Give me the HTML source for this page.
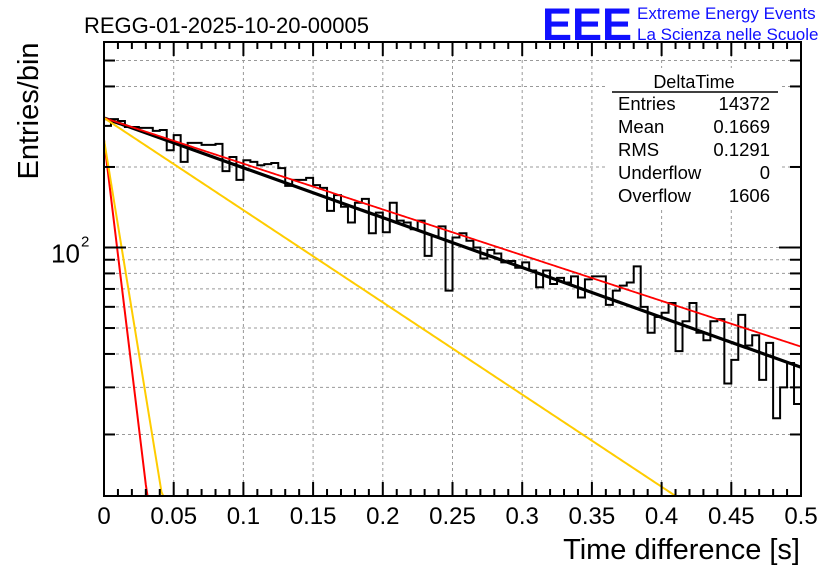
<!DOCTYPE html>
<html><head><meta charset="utf-8"><style>
body{margin:0;background:#fff;}
svg{display:block;font-family:"Liberation Sans",sans-serif;}
</style></head><body>
<svg id="c" width="836" height="572" viewBox="0 0 836 572" xmlns="http://www.w3.org/2000/svg">
<rect width="836" height="572" fill="#fff"/>
<g id="grid"></g>
<g id="stats">
<rect x="608" y="68" width="172" height="140" fill="#fff"/>
<text x="694" y="88" font-size="18" text-anchor="middle">DeltaTime</text>
<line x1="612" y1="92" x2="778" y2="92" stroke="#000" stroke-width="1.5"/>
<text x="618" y="110" font-size="18.5">Entries</text><text x="770" y="110" font-size="18.5" text-anchor="end">14372</text>
<text x="618" y="133" font-size="18.5">Mean</text><text x="770" y="133" font-size="18.5" text-anchor="end">0.1669</text>
<text x="618" y="156" font-size="18.5">RMS</text><text x="770" y="156" font-size="18.5" text-anchor="end">0.1291</text>
<text x="618" y="179" font-size="18.5">Underflow</text><text x="770" y="179" font-size="18.5" text-anchor="end">0</text>
<text x="618" y="202" font-size="18.5">Overflow</text><text x="770" y="202" font-size="18.5" text-anchor="end">1606</text>
</g>
<g id="marks"></g>
<g id="axes"></g>
<text x="84" y="33" font-size="22">REGG-01-2025-10-20-00005</text>
<text x="542" y="40" font-size="45" font-weight="bold" fill="#1010ff">EEE</text>
<text x="637" y="19" font-size="17" fill="#1010ff">Extreme Energy Events</text>
<text x="637" y="40" font-size="17" fill="#1010ff">La Scienza nelle Scuole</text>
<text transform="translate(38,111) rotate(-90)" font-size="29" text-anchor="middle">Entries/bin</text>
<text x="800" y="559" font-size="29" text-anchor="end">Time difference [s]</text>
</svg>
<script>
const counts=[285,302,297,282,282,280,280,273,275,231,263,209,246,246,242,242,244,193,218,179,212,209,203,205,207,198,170,179,179,182,171,167,137,157,142,124,147,152,113,135,114,147,126,124,117,126,93,110,120,69,109,113,106,100,91,98,95,88,89,84,88,82,71,82,73,77,74,78,65,76,78,78,61,69,72,74,85,60,48,55,57,62,41,53,62,48,45,53,54,31,38,56,43,47,32,44,23,30,37,26];
const fitAmps=[305,305,305,253,253];
const fitTaus=[0.233,0.254,0.126,0.0101,0.0136];
const fitColors=["#000","#ff0000","#ffcc00","#ff0000","#ffcc00"];
const fitWidths=[3.2,1.8,2,2,2];
const xTicks=[0,0.05,0.1,0.15,0.2,0.25,0.3,0.35,0.4,0.45,0.5];
const xTickLabels=["0","0.05","0.1","0.15","0.2","0.25","0.3","0.35","0.4","0.45","0.5"];
const yMinor=[20,30,40,50,60,70,80,90,200,400,500];
const NS="http://www.w3.org/2000/svg";
const X0=104,X1=801,Y0=42,Y1=496,XMIN=0,XMAX=0.5;
const YREF=247.5,DEC=267.5;
const ymin=Math.pow(10,2-(Y1-YREF)/DEC),ymax=Math.pow(10,2+(YREF-Y0)/DEC);
function sx(v){return X0+(v-XMIN)/(XMAX-XMIN)*(X1-X0);}
function sy(v){return YREF-(Math.log10(v)-2)*DEC;}
function mk(t,a,p){const e=document.createElementNS(NS,t);for(const k in a)e.setAttribute(k,a[k]);p.appendChild(e);return e;}
const grid=document.getElementById('grid'),marks=document.getElementById('marks'),axes=document.getElementById('axes');
xTicks.forEach(v=>{if(v>0&&v<0.5){const l=mk('line',{x1:sx(v),x2:sx(v),y1:Y0,y2:Y1,stroke:'#999','stroke-dasharray':'3,3','stroke-width':1},grid);

}});
yMinor.concat([100]).forEach(v=>{const l=mk('line',{x1:X0,x2:X1,y1:sy(v),y2:sy(v),stroke:'#999','stroke-dasharray':'3,3','stroke-width':1},grid);

});
const bw=(XMAX-XMIN)/counts.length;
let d='';
counts.forEach((c,i)=>{const y=Math.min(Y1,Math.max(Y0,sy(c)));const xa=sx(i*bw),xb=sx((i+1)*bw);d+=(i===0?'M':'L')+xa+','+y+'L'+xb+','+y;});
const h=mk('path',{d:d,fill:'none',stroke:'#000','stroke-width':2},marks);


fitAmps.forEach((A,k)=>{let p='';for(let j=0;j<=400;j++){const t=XMAX*j/400;let v=A*Math.exp(-t/fitTaus[k]);let y=sy(Math.max(v,ymin));p+=(j?'L':'M')+sx(t).toFixed(2)+','+y.toFixed(2);if(v<ymin)break;}
const f=mk('path',{d:p,fill:'none',stroke:fitColors[k],'stroke-width':fitWidths[k]},marks);

});
const fr=mk('rect',{x:X0,y:Y0,width:X1-X0,height:Y1-Y0,fill:'none',stroke:'#000','stroke-width':2},axes);


for(let j=0;j<=50;j++){const v=j*0.01;const L=(j%5===0)?14:7;const x=sx(v);
mk('line',{x1:x,x2:x,y1:Y1,y2:Y1-L,stroke:'#000','stroke-width':2},axes);
mk('line',{x1:x,x2:x,y1:Y0,y2:Y0+L,stroke:'#000','stroke-width':2},axes);}
xTicks.forEach((v,i)=>{const t=mk('text',{x:sx(v),y:524,'font-size':24,'text-anchor':'middle'},axes);t.textContent=xTickLabels[i];

});
yMinor.forEach(v=>{const y=sy(v);mk('line',{x1:X0,x2:X0+11,y1:y,y2:y,stroke:'#000','stroke-width':2},axes);mk('line',{x1:X1,x2:X1-11,y1:y,y2:y,stroke:'#000','stroke-width':2},axes);});
[100].forEach(v=>{const y=sy(v);mk('line',{x1:X0,x2:X0+22,y1:y,y2:y,stroke:'#000','stroke-width':2},axes);mk('line',{x1:X1,x2:X1-22,y1:y,y2:y,stroke:'#000','stroke-width':2},axes);
const t=mk('text',{x:51,y:y+15,'font-size':26},axes);t.textContent='10';


const s=mk('text',{x:81,y:y-1,'font-size':15},axes);s.textContent='2';});
</script>
</body></html>
